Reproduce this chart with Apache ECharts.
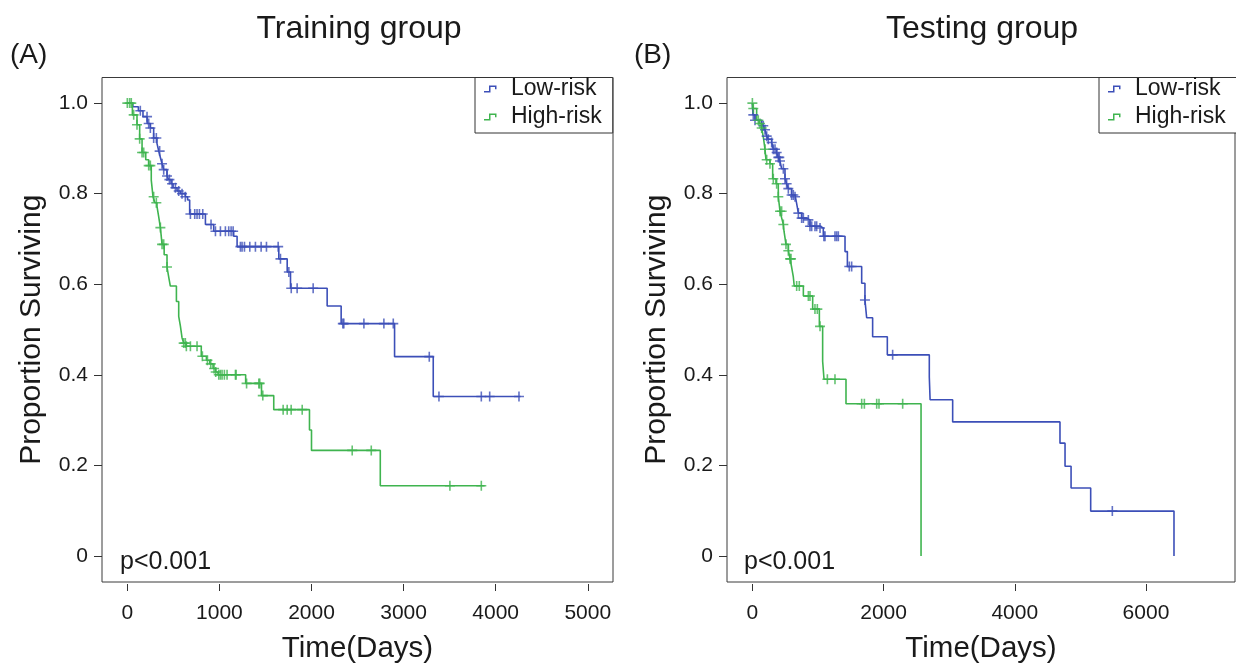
<!DOCTYPE html>
<html><head><meta charset="utf-8">
<script src="https://cdn.jsdelivr.net/npm/echarts@6.0.0/dist/echarts.min.js"></script>
<style>html,body{margin:0;padding:0;background:#fff}#chart{width:1236px;height:669px}</style>
</head><body><div id="chart"></div>
<script>
// ---------- text ----------
const panelTitles = ['Training group', 'Testing group'];
const panelLetters = ['(A)', '(B)'];
const seriesNames = ['Low-risk', 'High-risk'];
const pValueText = 'p<0.001';
const xAxisTitle = 'Time(Days)';
const yAxisTitle = 'Proportion Surviving';

// ---------- tick labels ----------
const xTicksA = [0, 1000, 2000, 3000, 4000, 5000];
const xTicksB = [0, 2000, 4000, 6000];
const yTicks = [0, 0.2, 0.4, 0.6, 0.8, 1.0];

// ---------- Panel A (training): [time, survival] after each event ----------
const lowA = [[0,1.0],[60,0.992],[120,0.983],[170,0.970],[215,0.955],[250,0.945],[286,0.923],[322,0.911],[341,0.894],[359,0.880],[377,0.866],[395,0.853],[431,0.839],[449,0.831],[475,0.822],[497,0.813],[540,0.806],[576,0.800],[630,0.793],[655,0.786],[677,0.755],[848,0.732],[938,0.717],[1155,0.706],[1192,0.683],[1645,0.656],[1736,0.627],[1772,0.591],[2170,0.552],[2322,0.513],[2902,0.440],[3322,0.352],[4270,0.352]];
const highA = [[0,1.0],[55,0.974],[105,0.952],[134,0.921],[160,0.891],[200,0.875],[232,0.862],[260,0.830],[279,0.793],[300,0.780],[322,0.772],[340,0.750],[359,0.725],[377,0.688],[400,0.665],[431,0.638],[450,0.615],[467,0.596],[533,0.562],[558,0.529],[576,0.508],[594,0.482],[612,0.470],[640,0.463],[803,0.441],[859,0.432],[895,0.424],[931,0.414],[960,0.406],[985,0.400],[1285,0.381],[1457,0.354],[1590,0.323],[1978,0.278],[2000,0.233],[2747,0.155],[3880,0.155]];
const lowCensorA = [141,214,232,250,286,315,351,377,395,431,457,486,522,558,594,630,685,732,757,783,819,909,957,1011,1065,1101,1127,1149,1228,1246,1272,1330,1391,1453,1511,1638,1663,1754,1780,1844,2018,2340,2351,2569,2786,2888,3279,3384,3844,3935,4253];
const highCensorA = [0,25,43,69,105,134,160,178,232,250,286,315,359,377,395,431,612,630,641,685,757,815,870,906,942,960,993,1011,1029,1054,1083,1174,1181,1295,1428,1438,1471,1692,1736,1779,1899,2442,2649,3503,3844];

// ---------- Panel B (testing) ----------
const lowB = [[0,1.0],[9,0.974],[40,0.962],[142,0.955],[166,0.950],[192,0.941],[218,0.927],[243,0.920],[294,0.913],[319,0.898],[370,0.891],[395,0.880],[421,0.872],[446,0.855],[497,0.833],[522,0.822],[548,0.811],[598,0.797],[650,0.793],[675,0.778],[701,0.757],[751,0.746],[827,0.742],[878,0.728],[1031,0.724],[1081,0.706],[1412,0.672],[1448,0.639],[1666,0.602],[1716,0.565],[1742,0.526],[1833,0.484],[2057,0.444],[2697,0.395],[2709,0.345],[3053,0.296],[4689,0.249],[4766,0.198],[4858,0.150],[5157,0.099],[6427,0.0]];
const highB = [[0,1.0],[14,0.988],[65,0.962],[103,0.955],[142,0.945],[172,0.920],[192,0.898],[207,0.875],[268,0.866],[309,0.833],[360,0.822],[395,0.793],[410,0.775],[421,0.761],[447,0.746],[472,0.732],[482,0.717],[512,0.688],[548,0.674],[574,0.656],[598,0.638],[624,0.616],[638,0.596],[777,0.574],[919,0.545],[1021,0.507],[1071,0.430],[1092,0.390],[1427,0.336],[2571,0.0]];
const lowCensorB = [14,40,166,192,218,243,294,319,345,370,395,410,421,472,497,522,548,598,624,650,701,751,777,853,878,904,954,980,1031,1090,1107,1259,1285,1310,1477,1513,1716,2138,5487];
const highCensorB = [0,14,90,116,142,192,218,268,319,370,395,421,446,472,512,548,574,589,675,715,853,878,954,990,1031,1143,1259,1666,1707,1895,1930,2291];

// ---------- styling ----------
const BLUE = '#3c4fb8';
const GREEN = '#3fb44f';
const FONT = '"Liberation Sans", Arial, sans-serif';
const TEXT = '#1a1a1a';
const PLUS = 'path://M4.2,0 L5.8,0 L5.8,4.2 L10,4.2 L10,5.8 L5.8,5.8 L5.8,10 L4.2,10 L4.2,5.8 L0,5.8 L0,4.2 L4.2,4.2 Z';
const STEP_ICON = 'path://M0,5.4 L5,5.4 L5,0 L12.5,0 L12.5,3.8 L11,3.8 L11,1.5 L6.5,1.5 L6.5,7 L0,7 Z M22,7 L22,6.99 L21.99,7 Z';

function survAt(curve, t) {
  let s = curve[0][1];
  for (const [ti, si] of curve) { if (ti <= t) s = si; else break; }
  return s;
}

const panels = [
  { grid: { left: 102, top: 77.5, width: 511, height: 512.5 }, xMin: -275, xMax: 5274, ticks: xTicksA,
    low: lowA, high: highA, lowC: lowCensorA, highC: highCensorA,
    titleX: 359, letterX: 10, pX: 120, legendLeft: 475 },
  { grid: { left: 727, top: 77.5, width: 508, height: 512.5 }, xMin: -387, xMax: 7357, ticks: xTicksB,
    low: lowB, high: highB, lowC: lowCensorB, highC: highCensorB,
    titleX: 982, letterX: 634, pX: 744, legendLeft: 1099 }
];

const option = {
  animation: false,
  backgroundColor: '#fff',
  grid: panels.map(p => Object.assign({ show: true, borderColor: '#3a3a3a', borderWidth: 1, backgroundColor: '#fff' }, p.grid)),
  xAxis: panels.map((p, i) => ({
    type: 'value', gridIndex: i, min: p.xMin, max: p.xMax, offset: 2, position: 'bottom',
    axisLine: { show: false, onZero: false },
    axisTick: { show: true, length: 7, customValues: p.ticks, lineStyle: { color: '#333', width: 1 } },
    axisLabel: { customValues: p.ticks, margin: 18.5, fontSize: 21, color: TEXT, fontFamily: FONT,
      formatter: v => String(Math.round(v)) },
    splitLine: { show: false },
    name: xAxisTitle, nameLocation: 'middle', nameGap: 50,
    nameTextStyle: { fontSize: 29.5, color: TEXT, fontFamily: FONT }
  })),
  yAxis: panels.map((p, i) => ({
    type: 'value', gridIndex: i, min: -0.0576, max: 1.0565, position: 'left',
    axisLine: { show: false, onZero: false },
    axisTick: { show: true, length: 8, customValues: yTicks, lineStyle: { color: '#333', width: 1 } },
    axisLabel: { customValues: yTicks, margin: 14, fontSize: 21, color: TEXT, fontFamily: FONT,
      formatter: v => (Math.abs(v) < 1e-9 ? '0' : v.toFixed(1)) },
    splitLine: { show: false },
    name: yAxisTitle, nameLocation: 'middle', nameGap: 55, nameRotate: 90,
    nameTextStyle: { fontSize: 30, color: TEXT, fontFamily: FONT }
  })),
  legend: panels.map(p => ({
    data: seriesNames, left: p.legendLeft, top: 77.5, orient: 'vertical',
    icon: STEP_ICON, itemWidth: 22, itemHeight: 7, itemGap: 5,
    padding: [0, 11, 4.5, 9], borderColor: '#333', borderWidth: 1, borderRadius: 0,
    backgroundColor: '#fff', selectedMode: false,
    itemStyle: { borderWidth: 0 },
    textStyle: { fontSize: 23, color: TEXT, fontFamily: FONT }
  })),
  graphic: panels.flatMap((p, i) => [
    { type: 'text', x: p.titleX, y: 29, style: { text: panelTitles[i], fontSize: 32, fontFamily: FONT, fill: TEXT, align: 'center', verticalAlign: 'middle' } },
    { type: 'text', x: p.letterX, y: 55, style: { text: panelLetters[i], fontSize: 28, fontFamily: FONT, fill: TEXT, align: 'left', verticalAlign: 'middle' } },
    { type: 'text', x: p.pX, y: 562, style: { text: pValueText, fontSize: 25, fontFamily: FONT, fill: TEXT, align: 'left', verticalAlign: 'middle' } }
  ]),
  series: panels.flatMap((p, i) => [
    { type: 'line', name: seriesNames[0], xAxisIndex: i, yAxisIndex: i, data: p.low, step: 'end',
      symbol: 'none', lineStyle: { color: BLUE, width: 1.6 }, itemStyle: { color: BLUE }, z: 3 },
    { type: 'line', name: seriesNames[1], xAxisIndex: i, yAxisIndex: i, data: p.high, step: 'end',
      symbol: 'none', lineStyle: { color: GREEN, width: 1.6 }, itemStyle: { color: GREEN }, z: 3 },
    { type: 'scatter', name: seriesNames[0] + ' censored', xAxisIndex: i, yAxisIndex: i,
      data: p.lowC.map(t => [t, survAt(p.low, t)]), symbol: PLUS, symbolSize: 10,
      itemStyle: { color: BLUE }, silent: true, z: 4 },
    { type: 'scatter', name: seriesNames[1] + ' censored', xAxisIndex: i, yAxisIndex: i,
      data: p.highC.map(t => [t, survAt(p.high, t)]), symbol: PLUS, symbolSize: 10,
      itemStyle: { color: GREEN }, silent: true, z: 4 }
  ])
};

echarts.init(document.getElementById('chart'), null, { renderer: 'canvas' }).setOption(option);
</script>
</body></html>
